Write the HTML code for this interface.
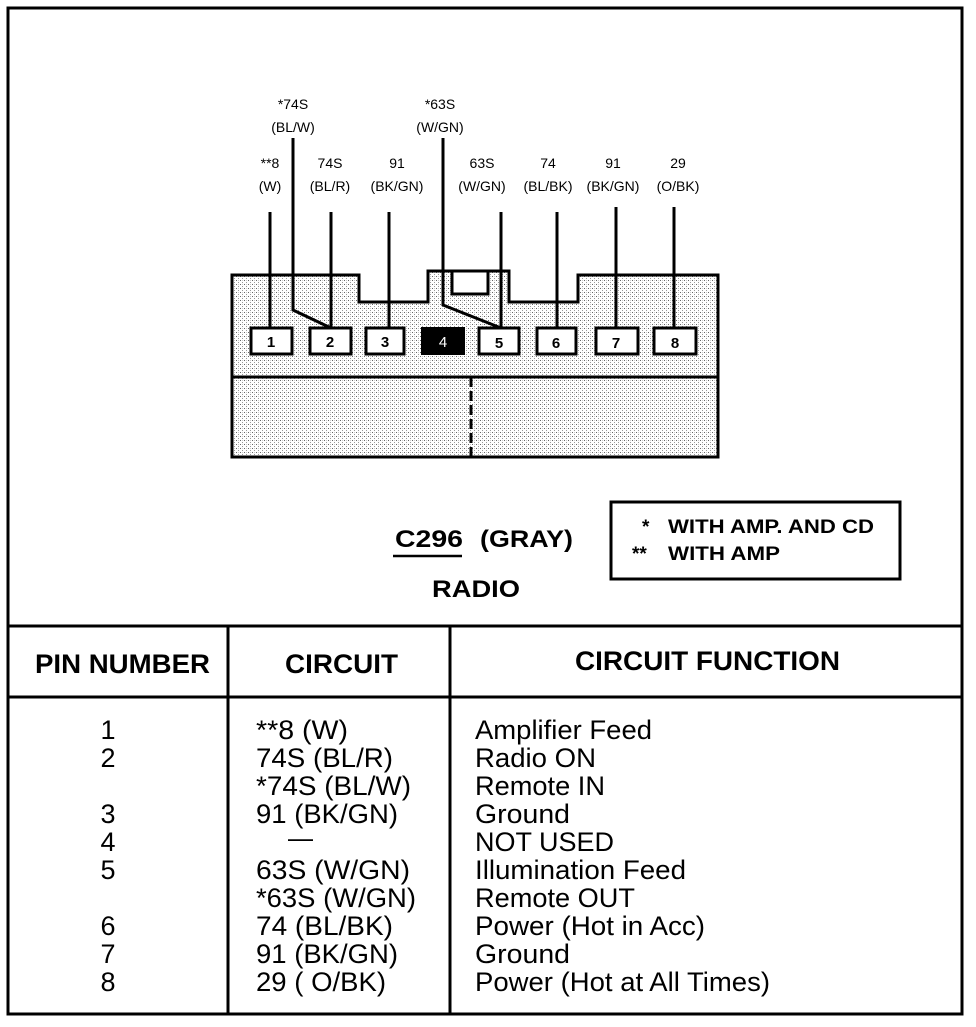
<!DOCTYPE html>
<html><head><style>html,body{margin:0;padding:0;background:#fff}</style></head>
<body>
<svg width="976" height="1022" viewBox="0 0 976 1022" xmlns="http://www.w3.org/2000/svg" font-family="Liberation Sans, sans-serif">
<defs>
<pattern id="dots" width="4" height="4" patternUnits="userSpaceOnUse">
<rect width="4" height="4" fill="#fff"/><rect x="0" y="0" width="1" height="1" fill="#666"/><rect x="2" y="2" width="1" height="1" fill="#999"/><rect x="2" y="0" width="1" height="1" fill="#ccc"/>
</pattern>
</defs>
<rect x="8" y="8" width="954" height="1006" fill="none" stroke="#000" stroke-width="3"/>
<path d="M232,275 L359,275 L359,302 L428,302 L428,271 L509,271 L509,302 L578,302 L578,275 L718,275 L718,457 L232,457 Z" fill="url(#dots)" stroke="#000" stroke-width="3"/>
<rect x="452" y="271" width="36" height="23" fill="#fff" stroke="#000" stroke-width="3"/>
<line x1="232" y1="377" x2="718" y2="377" stroke="#000" stroke-width="3"/>
<line x1="471" y1="377" x2="471" y2="457" stroke="#000" stroke-width="3" stroke-dasharray="10,4"/>
<g stroke="#000" stroke-width="3" fill="none">
<line x1="270" y1="212" x2="270" y2="328"/>
<line x1="331" y1="212" x2="331" y2="328"/>
<line x1="389" y1="212" x2="389" y2="328"/>
<line x1="501" y1="212" x2="501" y2="328"/>
<line x1="557" y1="212" x2="557" y2="328"/>
<line x1="616" y1="207" x2="616" y2="328"/>
<line x1="674" y1="207" x2="674" y2="328"/>
<polyline points="293,138 293,310 331,328"/>
<polyline points="443,138 443,305 501,328"/>
</g>
<g stroke="#000" stroke-width="3" fill="#fff">
<rect x="251" y="328" width="41" height="26"/>
<rect x="310" y="328" width="41" height="26"/>
<rect x="366" y="328" width="38" height="26"/>
<rect x="479" y="328" width="40" height="26"/>
<rect x="537" y="328" width="39" height="26"/>
<rect x="596" y="328" width="42" height="26"/>
<rect x="654" y="328" width="42" height="26"/>
</g>
<rect x="421" y="327" width="44" height="28" fill="#000"/>
<g font-size="15" font-weight="bold" text-anchor="middle">
<text x="271" y="347">1</text><text x="330" y="347">2</text><text x="385" y="347">3</text>
<text x="443" y="347" fill="#fff" font-weight="normal">4</text>
<text x="499" y="348">5</text><text x="556" y="348">6</text><text x="616" y="348">7</text><text x="675" y="348">8</text>
</g>
<g font-size="14" text-anchor="middle">
<text x="293" y="109">*74S</text><text x="293" y="132">(BL/W)</text>
<text x="440" y="109">*63S</text><text x="440" y="132">(W/GN)</text>
<text x="270" y="168">**8</text><text x="270" y="191">(W)</text>
<text x="330" y="168">74S</text><text x="330" y="191">(BL/R)</text>
<text x="397" y="168">91</text><text x="397" y="191">(BK/GN)</text>
<text x="482" y="168">63S</text><text x="482" y="191">(W/GN)</text>
<text x="548" y="168">74</text><text x="548" y="191">(BL/BK)</text>
<text x="613" y="168">91</text><text x="613" y="191">(BK/GN)</text>
<text x="678" y="168">29</text><text x="678" y="191">(O/BK)</text>
</g>
<g font-size="24" font-weight="bold">
<text x="395" y="547" textLength="68" lengthAdjust="spacingAndGlyphs">C296</text>
<text x="480" y="547" textLength="93" lengthAdjust="spacingAndGlyphs">(GRAY)</text>
<text x="432" y="597" textLength="88" lengthAdjust="spacingAndGlyphs">RADIO</text>
</g>
<line x1="393" y1="556" x2="462" y2="556" stroke="#000" stroke-width="2.5"/>
<rect x="611" y="502" width="289" height="77" fill="none" stroke="#000" stroke-width="3"/>
<g font-size="19" font-weight="bold">
<text x="642" y="533">*</text><text x="668" y="533" textLength="206" lengthAdjust="spacingAndGlyphs">WITH AMP. AND CD</text>
<text x="632" y="560">**</text><text x="668" y="560" textLength="112" lengthAdjust="spacingAndGlyphs">WITH AMP</text>
</g>
<g stroke="#000" stroke-width="3">
<line x1="8" y1="626" x2="962" y2="626"/>
<line x1="8" y1="697" x2="962" y2="697"/>
<line x1="228" y1="626" x2="228" y2="1014"/>
<line x1="450" y1="626" x2="450" y2="1014"/>
</g>
<g font-size="27" font-weight="bold">
<text x="35" y="673" textLength="175" lengthAdjust="spacingAndGlyphs">PIN NUMBER</text>
<text x="285" y="673" textLength="113" lengthAdjust="spacingAndGlyphs">CIRCUIT</text>
<text x="575" y="670" textLength="265" lengthAdjust="spacingAndGlyphs">CIRCUIT FUNCTION</text>
</g>
<g font-size="27">
<text x="108" y="739" text-anchor="middle">1</text>
<text x="108" y="767" text-anchor="middle">2</text>
<text x="108" y="823" text-anchor="middle">3</text>
<text x="108" y="851" text-anchor="middle">4</text>
<text x="108" y="879" text-anchor="middle">5</text>
<text x="108" y="935" text-anchor="middle">6</text>
<text x="108" y="963" text-anchor="middle">7</text>
<text x="108" y="991" text-anchor="middle">8</text>

<text x="256" y="739" textLength="92" lengthAdjust="spacingAndGlyphs">**8 (W)</text>
<text x="256" y="767" textLength="137" lengthAdjust="spacingAndGlyphs">74S (BL/R)</text>
<text x="256" y="795" textLength="155" lengthAdjust="spacingAndGlyphs">*74S (BL/W)</text>
<text x="256" y="823" textLength="142" lengthAdjust="spacingAndGlyphs">91 (BK/GN)</text>
<text x="288" y="847" textLength="25" lengthAdjust="spacingAndGlyphs">—</text>
<text x="256" y="879" textLength="154" lengthAdjust="spacingAndGlyphs">63S (W/GN)</text>
<text x="256" y="907" textLength="160" lengthAdjust="spacingAndGlyphs">*63S (W/GN)</text>
<text x="256" y="935" textLength="137" lengthAdjust="spacingAndGlyphs">74 (BL/BK)</text>
<text x="256" y="963" textLength="142" lengthAdjust="spacingAndGlyphs">91 (BK/GN)</text>
<text x="256" y="991" textLength="130" lengthAdjust="spacingAndGlyphs">29 ( O/BK)</text>

<text x="475" y="739" textLength="177" lengthAdjust="spacingAndGlyphs">Amplifier Feed</text>
<text x="475" y="767" textLength="121" lengthAdjust="spacingAndGlyphs">Radio ON</text>
<text x="475" y="795" textLength="130" lengthAdjust="spacingAndGlyphs">Remote IN</text>
<text x="475" y="823" textLength="95" lengthAdjust="spacingAndGlyphs">Ground</text>
<text x="475" y="851" textLength="139" lengthAdjust="spacingAndGlyphs">NOT USED</text>
<text x="475" y="879" textLength="211" lengthAdjust="spacingAndGlyphs">Illumination Feed</text>
<text x="475" y="907" textLength="160" lengthAdjust="spacingAndGlyphs">Remote OUT</text>
<text x="475" y="935" textLength="230" lengthAdjust="spacingAndGlyphs">Power (Hot in Acc)</text>
<text x="475" y="963" textLength="95" lengthAdjust="spacingAndGlyphs">Ground</text>
<text x="475" y="991" textLength="295" lengthAdjust="spacingAndGlyphs">Power (Hot at All Times)</text>
</g>
</svg>
</body></html>
